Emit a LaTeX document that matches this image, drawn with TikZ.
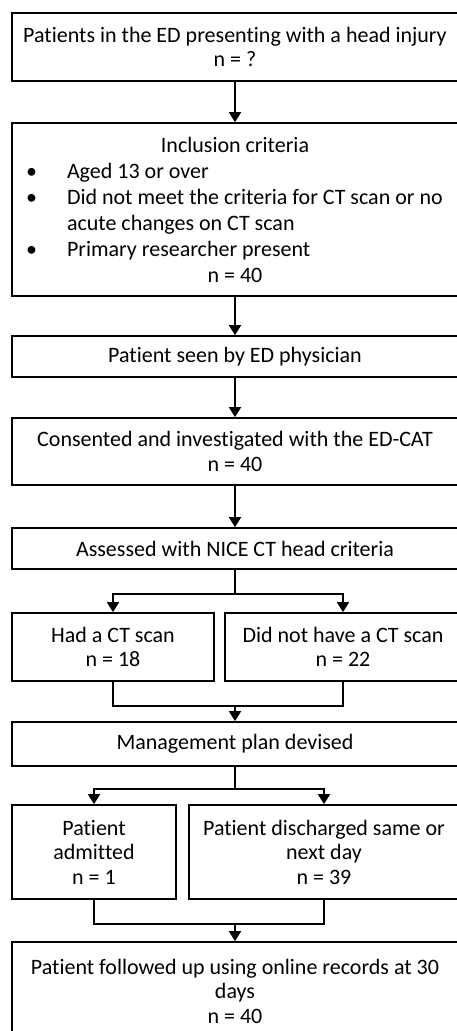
\documentclass[tikz,border=0pt]{standalone}
\usepackage{fontspec}
\setmainfont[Ligatures={NoCommon}]{Carlito}
\usepackage{enumitem}
\usetikzlibrary{arrows.meta}
\tikzset{>={Triangle[width=12pt,length=10pt]}}
\tikzset{
  box/.style = {draw, line width=1.7pt, align=center, inner sep=0pt,
    font=\fontsize{22}{24.5}\selectfont},
  link/.style = {line width=1.7pt}
}

\begin{document}
\begin{tikzpicture}[x=1pt,y=-1pt]
  \useasboundingbox (0,0) rectangle (457,1031);
  \clip (0,0) rectangle (457,1031);
  \node[box,minimum width=446,minimum height=68] (head) at (235,47)
    {Patients in the ED presenting with a head injury\\n = ?};
  \node[box,minimum width=446,minimum height=173] (incl) at (235,209.5)
    {\begin{minipage}{426pt}
      \fontsize{22}{26}\selectfont
      \centering Inclusion criteria\par
      \begin{itemize}[leftmargin=45pt,labelsep=30pt,itemsep=0pt,topsep=0pt,parsep=0pt,partopsep=0pt]
        \raggedright
        \item Aged 13 or over
        \item Did not meet the criteria for CT scan or no\newline acute changes on CT scan
        \item Primary researcher present
      \end{itemize}
      \centering n = 40\par
    \end{minipage}};
  \node[box,minimum width=446,minimum height=41] (seen) at (235,356.5)
    {Patient seen by ED physician};
  \node[box,minimum width=446,minimum height=67] (consent) at (235,451.5)
    {Consented and investigated with the ED-CAT\\n = 40};
  \node[box,minimum width=446,minimum height=41] (nice) at (235,548.5)
    {Assessed with NICE CT head criteria};
  \node[box,minimum width=202,minimum height=68] (hadct) at (113,647)
    {Had a CT scan\\n = 18};
  \node[box,minimum width=236,minimum height=68] (noct) at (343,647)
    {Did not have a CT scan\\n = 22};
  \node[box,minimum width=446,minimum height=44] (plan) at (235,744)
    {Management plan devised};
  \node[box,minimum width=164,minimum height=94] (admit) at (94,852)
    {Patient\\admitted\\n = 1};
  \node[box,minimum width=270,minimum height=94] (disch) at (324,852)
    {Patient discharged same or\\next day\\n = 39};
  \node[box,minimum width=446,minimum height=98] (follow) at (235,991)
    {Patient followed up using online records at 30\\days\\n = 40};

  % straight links
  \draw[link,->] (head) -- (incl);
  \draw[link,->] (incl) -- (seen);
  \draw[link,->] (seen) -- (consent);
  \draw[link,->] (consent) -- (nice);

  % split after NICE criteria
  \coordinate (split1) at (235,594);
  \draw[link] (nice) -- (split1);
  \draw[link,->] (split1) -| (hadct);
  \draw[link,->] (split1) -| (noct);

  % join before plan
  \coordinate (join1) at (235,706);
  \draw[link] (hadct) |- (join1);
  \draw[link] (noct) |- (join1);
  \draw[link,->] (join1) -- (plan);

  % split after plan
  \coordinate (split2) at (235,789);
  \draw[link] (plan) -- (split2);
  \draw[link,->] (split2) -| (admit);
  \draw[link,->] (split2) -| (disch);

  % join before follow up
  \coordinate (join2) at (235,924);
  \draw[link] (admit) |- (join2);
  \draw[link] (disch) |- (join2);
  \draw[link,->] (join2) -- (follow);
\end{tikzpicture}
\end{document}
